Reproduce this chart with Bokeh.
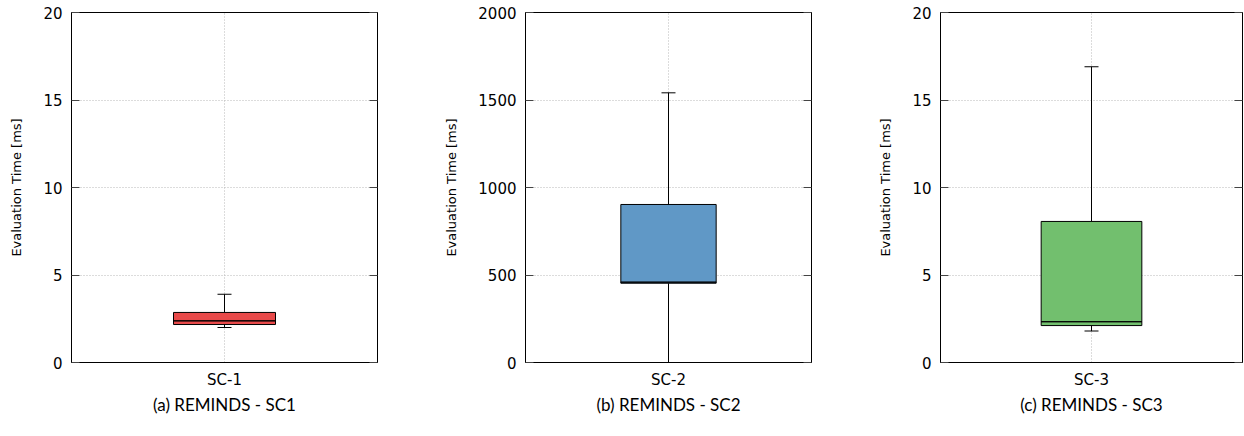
from bokeh.plotting import figure
from bokeh.layouts import row
from bokeh.models import (ColumnDataSource, FactorRange, Range1d, LinearAxis,
                          FixedTicker, Whisker, TeeHead)
from bokeh.embed import file_html
from bokeh.resources import INLINE

# ---- data ----
categories = ["SC-1", "SC-2", "SC-3"]
captions = ["(a) REMINDS - SC1", "(b) REMINDS - SC2", "(c) REMINDS - SC3"]
whisker_low = [2.0, 0.0, 1.8]
q1 = [2.17, 453.0, 2.11]
median = [2.38, 459.0, 2.33]
q3 = [2.86, 903.0, 8.06]
whisker_high = [3.9, 1541.0, 16.9]
y_max = [20, 2000, 20]
y_ticks = [[0, 5, 10, 15, 20],
           [0, 500, 1000, 1500, 2000],
           [0, 5, 10, 15, 20]]
colors = ["#e84a4a", "#6098c6", "#72bf6e"]

# ---- layout (pixels) ----
widths = [440, 430, 374]
borders_left = [71, 85, 70]
borders_right = [63, 59, 2]
HEIGHT = 434
TICK_FONT = "DejaVu Sans"
CAP_FONT = "Lato"


def make_panel(i):
    cat = categories[i]
    p = figure(x_range=FactorRange(factors=[cat]),
               y_range=Range1d(0, y_max[i]),
               width=widths[i], height=HEIGHT,
               min_border_left=borders_left[i], min_border_right=borders_right[i],
               min_border_top=12, min_border_bottom=72,
               title=captions[i], title_location="below",
               output_backend="svg", toolbar_location=None)
    p.background_fill_color = "white"
    p.border_fill_color = "white"
    p.outline_line_color = "black"
    p.outline_line_width = 1

    # caption below the panel
    p.title.align = "center"
    p.title.text_font = CAP_FONT
    p.title.text_font_size = "17px"
    p.title.text_font_style = "normal"
    p.title.text_color = "black"
    p.title.standoff = 0

    # y axis
    yax = p.yaxis[0]
    yax.ticker = FixedTicker(ticks=y_ticks[i])
    yax.axis_label = "Evaluation Time [ms]"
    yax.axis_label_text_font = TICK_FONT
    yax.axis_label_text_font_size = "13px"
    yax.axis_label_text_font_style = "normal"
    yax.axis_label_text_color = "black"
    yax.axis_label_standoff = 16
    yax.major_label_text_font = TICK_FONT
    yax.major_label_text_font_size = "15px"
    yax.major_label_text_color = "black"
    yax.major_label_standoff = 9
    yax.major_tick_in = 8
    yax.major_tick_out = 0
    yax.minor_tick_in = 0
    yax.minor_tick_out = 0
    yax.major_tick_line_color = "#444444"
    yax.minor_tick_line_color = None
    yax.axis_line_color = "black"

    # mirrored ticks on the right (no labels)
    rax = LinearAxis(ticker=FixedTicker(ticks=y_ticks[i]),
                     major_tick_in=8, major_tick_out=0,
                     minor_tick_in=0, minor_tick_out=0,
                     major_tick_line_color="#444444",
                     minor_tick_line_color=None,
                     major_label_text_color=None,
                     major_label_text_font_size="1px",
                     major_label_standoff=0,
                     axis_line_color="black")
    p.add_layout(rax, "right")

    # x axis
    xax = p.xaxis[0]
    xax.major_label_text_font = TICK_FONT
    xax.major_label_text_font_size = "15px"
    xax.major_label_text_color = "black"
    xax.major_label_standoff = 8
    xax.major_tick_in = 0
    xax.major_tick_out = 0
    xax.axis_line_color = "black"

    # grids
    for g in (p.xgrid[0], p.ygrid[0]):
        g.grid_line_color = "#b8b8b8"
        g.grid_line_dash = "1 2"
        g.grid_line_width = 1
    p.ygrid[0].ticker = FixedTicker(ticks=y_ticks[i])

    src = ColumnDataSource(dict(x=[cat], low=[whisker_low[i]], q1=[q1[i]],
                                med=[median[i]], q3=[q3[i]], high=[whisker_high[i]]))

    # whiskers
    up = Whisker(source=src, base="x", lower="q3", upper="high", dimension="height",
                 line_color="black", line_width=1,
                 upper_head=TeeHead(size=14, line_color="black", line_width=1),
                 lower_head=None)
    lo = Whisker(source=src, base="x", lower="low", upper="q1", dimension="height",
                 line_color="black", line_width=1,
                 lower_head=TeeHead(size=14, line_color="black", line_width=1),
                 upper_head=None)
    p.add_layout(up)
    p.add_layout(lo)

    # box
    p.vbar(x="x", width=1/3, bottom="q1", top="q3", source=src,
           fill_color=colors[i], line_color="black", line_width=1)
    # median
    p.vbar(x="x", width=1/3, bottom="med", top="med", source=src,
           fill_color=None, line_color="black", line_width=1)
    return p


panels = [make_panel(i) for i in range(3)]
layout = row(*panels)
open("out.html", "w").write(file_html(layout, INLINE))
